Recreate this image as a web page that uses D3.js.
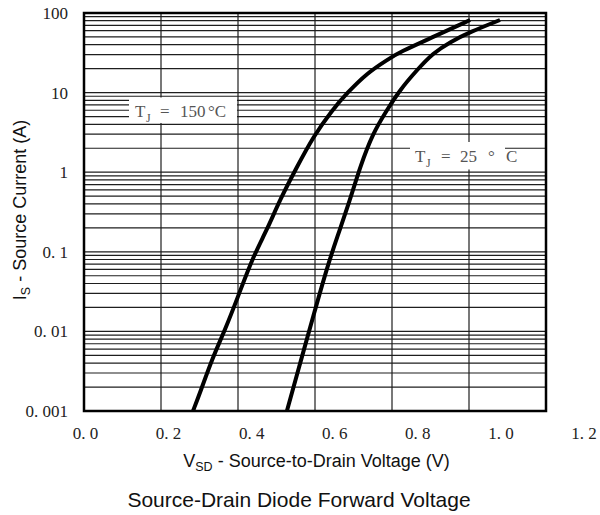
<!DOCTYPE html>
<html>
<head>
<meta charset="utf-8">
<script src="https://cdn.jsdelivr.net/npm/d3@7"></script>
<style>
  html, body { margin: 0; padding: 0; background: #fff; }
  svg { display: block; }
</style>
</head>
<body>
<svg id="chart" width="600" height="515"></svg>
<script>
// Axis ticks
const xTickValues = [0, 0.2, 0.4, 0.6, 0.8, 1.0, 1.2];
const xTickLabels = ["0. 0", "0. 2", "0. 4", "0. 6", "0. 8", "1. 0", "1. 2"];
const yTickValues = [0.001, 0.01, 0.1, 1, 10, 100];
const yTickLabels = ["0. 001", "0. 01", "0. 1", "1", "10", "100"];

// Diode forward characteristic, TJ = 150 °C  (V, A)
const vsd150 = [0.260, 0.277, 0.308, 0.337, 0.368, 0.404, 0.438, 0.469, 0.510, 0.549, 0.595, 0.631, 0.679, 0.727, 0.758, 0.838, 0.927];
const is150  = [0.001, 0.0017, 0.0048, 0.0104, 0.027, 0.086, 0.188, 0.448, 1.16, 2.77, 6.04, 9.9, 17.6, 25.7, 32.4, 49.9, 81.7];

// Diode forward characteristic, TJ = 25 °C  (V, A)
const vsd25 = [0.486, 0.518, 0.549, 0.583, 0.607, 0.638, 0.662, 0.693, 0.727, 0.758, 0.799, 0.838, 0.879, 0.927, 0.999];
const is25  = [0.001, 0.0040, 0.0152, 0.0644, 0.153, 0.448, 1.16, 3.10, 6.04, 10.8, 19.2, 31.4, 43.2, 57.7, 81.7];

const svg = d3.select("#chart");

// Plot frame
const frame = { left: 84, right: 546, top: 13, bottom: 411 };

const x = d3.scaleLinear().domain([0, 1.2]).range([85, 583.5]);
const y = d3.scaleLog().domain([0.001, 100]).range([frame.bottom, frame.top]);
// Vertical grid divides the frame into six equal columns
const gridX = d3.scaleLinear().domain([0, 6]).range([frame.left, frame.right]);

const serif = "'Liberation Serif', 'DejaVu Serif', serif";
const sans = "'Liberation Sans', Arial, sans-serif";

// ---- Grid ----
const grid = svg.append("g").attr("stroke", "#1e1e1e").attr("stroke-width", 1.2);

const hValues = [];
for (let e = -3; e <= 1; e++) {
  for (let m = 1; m <= 9; m++) hValues.push(m * Math.pow(10, e));
}
hValues.push(100);

grid.selectAll("line.h").data(hValues).join("line")
  .attr("class", "h")
  .attr("x1", frame.left).attr("x2", frame.right)
  .attr("y1", d => y(d)).attr("y2", d => y(d));

grid.selectAll("line.v").data(d3.range(7)).join("line")
  .attr("class", "v")
  .attr("x1", d => gridX(d)).attr("x2", d => gridX(d))
  .attr("y1", frame.top).attr("y2", frame.bottom);

// ---- Curve labels (white boxes knock out the grid) ----
const ann = svg.append("g");
ann.append("rect").attr("x", 129).attr("y", 97.5).attr("width", 108).attr("height", 25.5).attr("fill", "#fff");
ann.append("rect").attr("x", 410).attr("y", 142).attr("width", 95).attr("height", 27.5).attr("fill", "#fff");

function tjLabel(parts, baseY) {
  const t = ann.append("text")
    .attr("font-family", serif)
    .attr("font-size", 17)
    .attr("fill", "#555");
  parts.forEach(p => {
    t.append("tspan")
      .attr("x", p.x)
      .attr("y", baseY + (p.sub ? 5 : 0))
      .attr("font-size", p.sub ? 12 : 17)
      .text(p.t);
  });
}
tjLabel([
  { t: "T", x: 135 }, { t: "J", x: 146, sub: true }, { t: "=", x: 160 },
  { t: "150", x: 180 }, { t: "°C", x: 208 }
], 117);
tjLabel([
  { t: "T", x: 415 }, { t: "J", x: 426, sub: true }, { t: "=", x: 441 },
  { t: "25", x: 460 }, { t: "°", x: 488 }, { t: "C", x: 506 }
], 162);

// ---- Curves ----
const line = d3.line()
  .x(d => x(d[0]))
  .y(d => y(d[1]))
  .curve(d3.curveBasis);

const series = [
  d3.zip(vsd150, is150),
  d3.zip(vsd25, is25)
];

svg.append("g").selectAll("path").data(series).join("path")
  .attr("d", line)
  .attr("fill", "none")
  .attr("stroke", "#000")
  .attr("stroke-width", 4)
  .attr("stroke-linejoin", "round");

// ---- Frame ----
svg.append("rect")
  .attr("x", frame.left).attr("y", frame.top)
  .attr("width", frame.right - frame.left)
  .attr("height", frame.bottom - frame.top)
  .attr("fill", "none")
  .attr("stroke", "#000")
  .attr("stroke-width", 2.5);

// ---- Axes ----
const yAxis = d3.axisLeft(y)
  .tickValues(yTickValues)
  .tickFormat((d, i) => yTickLabels[i])
  .tickSize(0)
  .tickPadding(16);

const gy = svg.append("g").attr("transform", `translate(${frame.left},0)`).call(yAxis);
gy.select(".domain").remove();
gy.selectAll("text")
  .attr("font-family", serif)
  .attr("font-size", 17)
  .attr("fill", "#222")
  .style("white-space", "pre");

const xAxis = d3.axisBottom(x)
  .tickValues(xTickValues)
  .tickFormat((d, i) => xTickLabels[i])
  .tickSize(0)
  .tickPadding(16);

const gx = svg.append("g").attr("transform", `translate(0,${frame.bottom})`).call(xAxis);
gx.select(".domain").remove();
gx.selectAll("text")
  .attr("font-family", serif)
  .attr("font-size", 17)
  .attr("fill", "#222")
  .style("white-space", "pre");

// ---- Titles ----
const xTitle = svg.append("text")
  .attr("x", 316.5).attr("y", 466.5)
  .attr("text-anchor", "middle")
  .attr("font-family", sans)
  .attr("font-size", 18)
  .attr("fill", "#111");
xTitle.append("tspan").text("V");
xTitle.append("tspan").attr("font-size", 12.5).attr("dy", 4).text("SD");
xTitle.append("tspan").attr("dy", -4).text(" - Source-to-Drain Voltage (V)");

const yTitle = svg.append("text")
  .attr("transform", "translate(26,210) rotate(-90)")
  .attr("text-anchor", "middle")
  .attr("font-family", sans)
  .attr("font-size", 18)
  .attr("fill", "#111");
yTitle.append("tspan").text("I");
yTitle.append("tspan").attr("font-size", 12.5).attr("dy", 4).text("S");
yTitle.append("tspan").attr("dy", -4).text(" - Source Current (A)");

svg.append("text")
  .attr("x", 299).attr("y", 507)
  .attr("text-anchor", "middle")
  .attr("font-family", sans)
  .attr("font-size", 21)
  .attr("fill", "#111")
  .text("Source-Drain Diode Forward Voltage");
</script>
</body>
</html>
